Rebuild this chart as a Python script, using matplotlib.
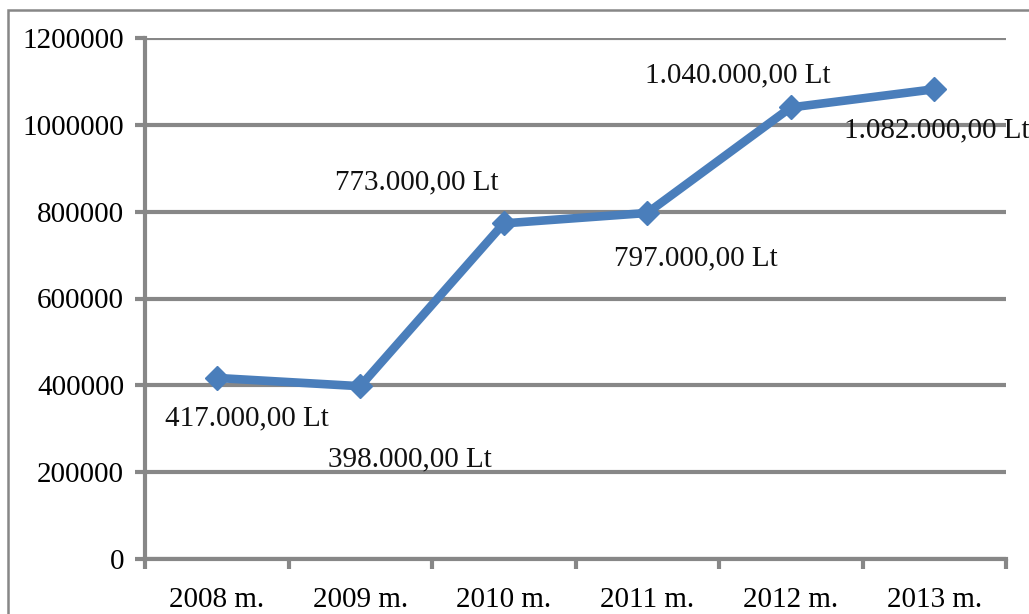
import matplotlib.pyplot as plt
from matplotlib.patches import Rectangle
from matplotlib.ticker import MultipleLocator, FixedLocator, StrMethodFormatter

years = ['2008 m.', '2009 m.', '2010 m.', '2011 m.', '2012 m.', '2013 m.']
values = [417000, 398000, 773000, 797000, 1040000, 1082000]
labels = ['417.000,00 Lt', '398.000,00 Lt', '773.000,00 Lt',
          '797.000,00 Lt', '1.040.000,00 Lt', '1.082.000,00 Lt']
# label offsets in pixels (dx, dy) from each point
offsets = [(30, -40), (50, -73), (-87, 41), (49, -45), (-53, 32), (3, -41)]

plt.rcParams['font.family'] = ['Liberation Serif', 'DejaVu Serif']
grey = '#878787'
fs = 21

fig = plt.figure(figsize=(10.29, 6.14), dpi=100)
# outer chart border (cut off at right and bottom)
fig.patches.append(Rectangle((8/1029, -0.1), 1.2, 1 - 10/614 + 0.1,
                             transform=fig.transFigure, fill=False,
                             edgecolor=grey, linewidth=1.8))

ax = fig.add_axes([145/1029, 1 - 559/614, (1006-145)/1029, (559-38)/614])
x = list(range(len(years)))
ax.plot(x, values, color='#4a7ebb', linewidth=6.2, marker='D',
        markersize=12.5, zorder=3, clip_on=False)

for xi, v, lab, (dx, dy) in zip(x, values, labels, offsets):
    ax.annotate(lab, (xi, v), xytext=(dx*0.72, dy*0.72), textcoords='offset points',
                ha='center', va='center', fontsize=fs, color='#111111')

ax.set_xlim(-0.5, 5.5)
ax.set_ylim(0, 1200000)
ax.yaxis.set_major_locator(MultipleLocator(200000))
ax.yaxis.set_major_formatter(StrMethodFormatter('{x:.0f}'))
ax.grid(axis='y', color=grey, linewidth=3)
ax.set_axisbelow(True)

ax.set_xticks(x)
ax.set_xticklabels(years)
ax.xaxis.set_minor_locator(FixedLocator([i - 0.5 for i in range(7)]))
ax.tick_params(axis='x', which='major', length=0, pad=20, labelsize=fs)
ax.tick_params(axis='x', which='minor', length=7, width=3, color=grey)
ax.tick_params(axis='y', length=7, width=3, color=grey, pad=8, labelsize=fs)

for s in ['top', 'right']:
    ax.spines[s].set_visible(False)
for s in ['left', 'bottom']:
    ax.spines[s].set_color(grey)
    ax.spines[s].set_linewidth(3)

fig.savefig('out.png', dpi=100)
